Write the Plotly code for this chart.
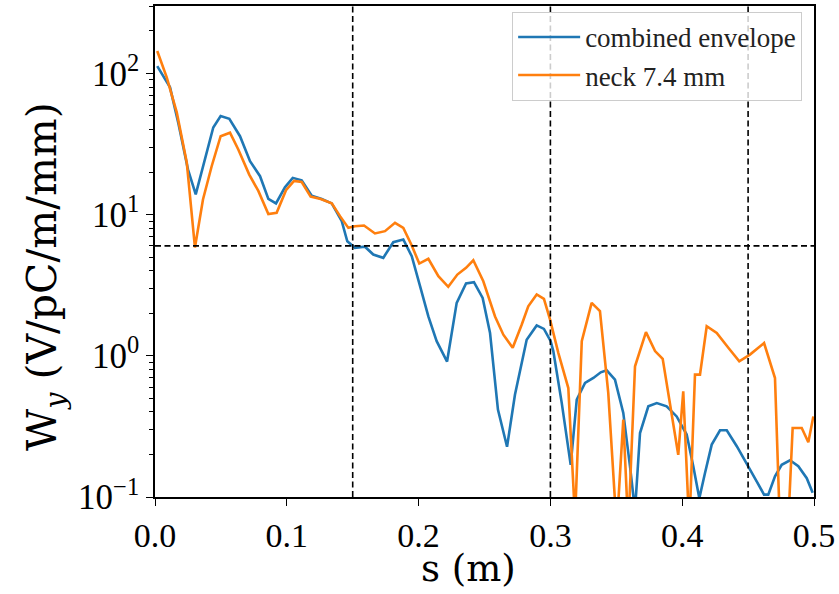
import plotly.graph_objects as go

# combined envelope (blue)
s_env = [0.0017, 0.0114, 0.0178, 0.025, 0.0309, 0.0379, 0.0442, 0.0498, 0.0564, 0.0645,
         0.0721, 0.0797, 0.086, 0.0918, 0.0986, 0.1045, 0.1113, 0.1189, 0.1265, 0.1341,
         0.1417, 0.1459, 0.1517, 0.1593, 0.1656, 0.1732, 0.1808, 0.1884, 0.1948, 0.2011,
         0.2074, 0.2137, 0.2216, 0.2289, 0.236, 0.242, 0.2486, 0.2542, 0.2602, 0.2671,
         0.2731, 0.282, 0.2896, 0.2951, 0.3002, 0.3022, 0.3086, 0.3154, 0.32, 0.3263,
         0.3326, 0.3382, 0.3427, 0.349, 0.3553, 0.3604, 0.3642, 0.368, 0.3743, 0.3807,
         0.3882, 0.3958, 0.4034, 0.4084, 0.413, 0.4173, 0.4224, 0.4287, 0.4338, 0.4414,
         0.4489, 0.4565, 0.4621, 0.4653, 0.4704, 0.4755, 0.4818, 0.4881, 0.4945, 0.499]
w_env = [112.6, 79.6, 44.0, 20.9, 13.9, 24.6, 41.4, 49.8, 47.7, 35.9,
         23.9, 18.7, 12.9, 12.0, 15.6, 18.2, 17.5, 13.6, 12.9, 12.0,
         8.98, 6.47, 5.82, 5.92, 5.21, 4.94, 6.37, 6.66, 5.07, 3.11,
         1.90, 1.27, 0.91, 2.37, 3.25, 3.32, 2.57, 1.45, 0.416, 0.227,
         0.53, 1.30, 1.64, 1.55, 1.27, 1.08, 0.464, 0.169, 0.49, 0.643,
         0.697, 0.764, 0.789, 0.678, 0.394, 0.165, 0.08, 0.284, 0.439, 0.463,
         0.439, 0.372, 0.277, 0.165, 0.098, 0.148, 0.235, 0.297, 0.297, 0.229,
         0.174, 0.129, 0.104, 0.104, 0.140, 0.169, 0.182, 0.165, 0.136, 0.107]

# neck 7.4 mm (orange)
s_neck = [0.0017, 0.0089, 0.0165, 0.0241, 0.0303, 0.0364, 0.043, 0.0498, 0.0569, 0.0632,
          0.0715, 0.0784, 0.086, 0.0923, 0.0994, 0.1055, 0.1113, 0.1181, 0.1257, 0.1341,
          0.1404, 0.1467, 0.1517, 0.1586, 0.1669, 0.1745, 0.1821, 0.1884, 0.1948, 0.2005,
          0.2074, 0.215, 0.2225, 0.2294, 0.236, 0.2415, 0.2491, 0.258, 0.2643, 0.2714,
          0.2782, 0.2832, 0.2896, 0.2951, 0.2997, 0.306, 0.3136, 0.3187, 0.3238, 0.3313,
          0.3376, 0.3439, 0.3503, 0.3553, 0.3591, 0.3642, 0.3725, 0.3794, 0.3852, 0.3913,
          0.397, 0.4008, 0.4054, 0.4097, 0.4135, 0.4186, 0.4262, 0.435, 0.4433, 0.4514,
          0.4621, 0.4704, 0.4742, 0.4803, 0.4838, 0.4907, 0.4957, 0.4995]
w_neck = [143.9, 93.8, 52.9, 23.4, 5.85, 12.8, 22.0, 35.9, 38.0, 28.9,
          19.2, 14.7, 10.1, 10.3, 14.9, 17.3, 17.0, 13.4, 12.9, 12.0,
          9.75, 8.05, 8.27, 8.37, 7.35, 7.63, 8.75, 8.05, 6.04, 4.50,
          4.86, 3.66, 3.08, 3.76, 4.20, 4.75, 3.37, 1.90, 1.41, 1.14,
          1.66, 2.24, 2.72, 2.53, 1.81, 1.05, 0.591, 0.07, 1.27, 2.37,
          2.07, 0.546, 0.06, 0.353, 0.06, 0.843, 1.47, 1.08, 0.951, 0.416,
          0.199, 0.560, 0.06, 0.736, 0.736, 1.62, 1.45, 1.14, 0.914, 1.02,
          1.23, 0.696, 0.06, 0.06, 0.308, 0.308, 0.244, 0.372]

v_lines = [0.15, 0.30, 0.45]
h_line = 6.0

y_tickvals = [0.1, 1, 10, 100]
y_ticktext = ["10<sup>−1</sup>", "10<sup>0</sup>", "10<sup>1</sup>", "10<sup>2</sup>"]
y_minor = [m * 10 ** e for e in (-1, 0, 1) for m in range(2, 10)] + [200, 300]
x_tickvals = [0.0, 0.1, 0.2, 0.3, 0.4, 0.5]
x_ticktext = ["0.0", "0.1", "0.2", "0.3", "0.4", "0.5"]
x_title = "s (m)"
y_title = "W<sub><i>y</i></sub> (V/pC/m/mm)"

FONT = "Liberation Serif"
TFONT = "DejaVu Serif"

fig = go.Figure()
fig.add_trace(go.Scatter(x=s_env, y=w_env, mode="lines", name="combined envelope",
                         line=dict(color="#1f77b4", width=2.6)))
fig.add_trace(go.Scatter(x=s_neck, y=w_neck, mode="lines", name="neck 7.4 mm",
                         line=dict(color="#ff7f0e", width=2.6)))

shapes = []
for xv in v_lines:
    shapes.append(dict(type="line", xref="x", yref="paper", x0=xv, x1=xv, y0=0, y1=1,
                       line=dict(color="black", width=1.6, dash="6px,3.5px"), layer="above"))
shapes.append(dict(type="line", xref="paper", yref="y", x0=0, x1=1, y0=h_line, y1=h_line,
                   line=dict(color="black", width=1.6, dash="6px,3.5px"), layer="above"))

annotations = [
    dict(text=x_title, xref="paper", yref="paper", x=0.475, y=-0.1945,
         xanchor="center", yanchor="bottom", showarrow=False,
         font=dict(family=TFONT, size=37, color="black")),
    dict(text=y_title, xref="paper", yref="paper", x=-0.167, y=0.45,
         xanchor="center", yanchor="middle", showarrow=False, textangle=-90,
         font=dict(family=TFONT, size=41, color="black")),
]

fig.update_layout(
    width=839, height=594,
    margin=dict(l=155, r=25, t=6, b=97),
    paper_bgcolor="white", plot_bgcolor="white",
    font=dict(family=FONT, color="black"),
    shapes=shapes,
    annotations=annotations,
    showlegend=True,
    legend=dict(x=0.982, y=0.988, xanchor="right", yanchor="top",
                bgcolor="rgba(255,255,255,0.8)", bordercolor="#cccccc", borderwidth=1,
                font=dict(family=FONT, size=27, color="#222222"),
                itemwidth=62, tracegroupgap=0),
    xaxis=dict(range=[0, 0.5], tickmode="array", tickvals=x_tickvals, ticktext=x_ticktext,
               ticks="outside", ticklen=7, tickwidth=1.4, tickcolor="black",
               showline=True, linecolor="black", linewidth=1.6, mirror=True,
               showgrid=False, zeroline=False, automargin=False,
               tickfont=dict(family=FONT, size=34)),
    yaxis=dict(type="log", range=[-1, 2.4771], tickmode="array", tickvals=y_tickvals,
               ticktext=y_ticktext, ticks="outside", ticklen=7, tickwidth=1.4,
               tickcolor="black", showline=True, linecolor="black", linewidth=1.6,
               mirror=True, showgrid=False, zeroline=False, automargin=False,
               minor=dict(tickmode="array", tickvals=y_minor, ticks="outside", ticklen=4,
                          tickwidth=1, tickcolor="black", showgrid=False),
               tickfont=dict(family=FONT, size=35)),
)

fig.write_html("out.html")
